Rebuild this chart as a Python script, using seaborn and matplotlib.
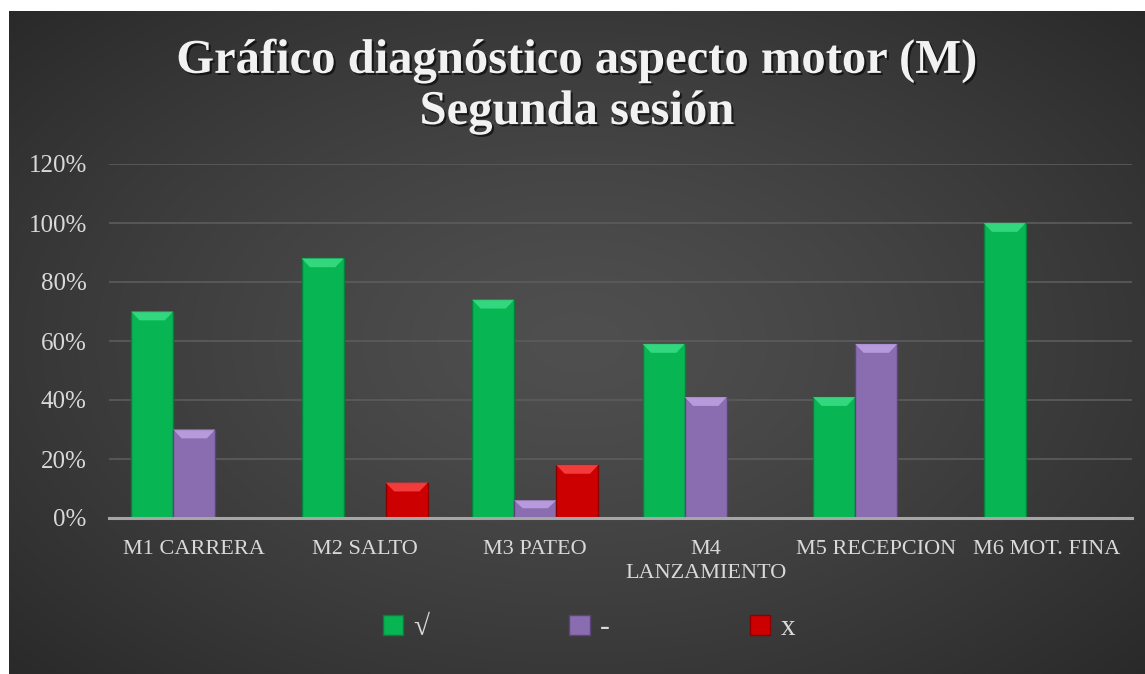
import numpy as np
import pandas as pd
import matplotlib
matplotlib.use("Agg")
import matplotlib.pyplot as plt
import matplotlib.patheffects as pe
from matplotlib.patches import Polygon
import seaborn as sns

categories = ["M1 CARRERA", "M2 SALTO", "M3 PATEO", "M4\nLANZAMIENTO", "M5 RECEPCION", "M6 MOT. FINA"]
series_names = ["√", "-", "x"]
vals_check = [70, 88, 74, 59, 41, 100]
vals_dash = [30, 0, 6, 41, 59, 0]
vals_x = [0, 12, 18, 0, 0, 0]
yticks = [0, 20, 40, 60, 80, 100, 120]
title = "Gráfico diagnóstico aspecto motor (M)\nSegunda sesión"

colors = ["#07b552", "#8a6cb0", "#cc0000"]
edge_colors = ["#04813a", "#5a4578", "#8a0000"]
top_colors = ["#3fe08a", "#c3a6e8", "#ff4a4a"]

df = pd.DataFrame({
    "cat": categories * 3,
    "serie": [series_names[0]] * 6 + [series_names[1]] * 6 + [series_names[2]] * 6,
    "val": vals_check + vals_dash + vals_x,
})

sns.set_theme(style="white")
plt.rcParams["font.family"] = ["Liberation Serif", "DejaVu Serif"]

W, H = 1145, 674
fig = plt.figure(figsize=(W / 100, H / 100), dpi=100, facecolor="white")

# background gradient panel
bg = fig.add_axes([9 / W, 0, 1 - 9 / W, 1 - 11 / H])
bg.set_axis_off()
yy, xx = np.mgrid[0:1:300j, 0:1:500j]
r = np.sqrt(((xx - 0.5) / 0.75) ** 2 + ((yy - 0.5) / 0.8) ** 2)
r = np.clip(r, 0, 1)
light, dark = 0x4f / 255, 0x25 / 255
g = light + (dark - light) * r ** 1.3
img = np.dstack([g, g, g])
bg.imshow(img, aspect="auto", extent=[0, 1, 0, 1], interpolation="bilinear")
bg.set_zorder(0)

ax = fig.add_axes([109 / W, 1 - 518 / H, (1132 - 109) / W, (518 - 164) / H])
ax.set_zorder(1)
ax.patch.set_alpha(0)

sns.barplot(data=df, x="cat", y="val", hue="serie", palette=colors, width=0.74,
            saturation=1, ax=ax, order=categories, hue_order=series_names, zorder=3)

ax.set_ylim(0, 120)
ax.set_yticks(yticks)
ax.set_yticklabels([f"{v}%" for v in yticks])
ax.yaxis.grid(True, color="#5c5c5c", linewidth=1.2, zorder=0)
ax.set_axisbelow(True)
for s in ["top", "right", "left"]:
    ax.spines[s].set_visible(False)
ax.spines["bottom"].set_color("#a6a6a6")
ax.spines["bottom"].set_linewidth(2.2)
ax.spines["bottom"].set_zorder(5)
ax.tick_params(axis="both", length=0, colors="#d9d9d9")
ax.tick_params(axis="y", pad=16, labelsize=18)
ax.tick_params(axis="x", pad=16, labelsize=16)
for t in ax.get_xticklabels():
    t.set_linespacing(1.35)
ax.set_xlabel("")
ax.set_ylabel("")

# bevel styling derived from each bar's geometry
for ci, cont in enumerate(ax.containers):
    for bar in cont:
        h = bar.get_height()
        bar.set_edgecolor(edge_colors[ci])
        bar.set_linewidth(1.0)
        if h <= 0:
            continue
        x0 = bar.get_x()
        w = bar.get_width()
        inset = w * 0.2
        bh = min(3.0, h * 0.45)
        ax.add_patch(Polygon([[x0, h], [x0 + w, h], [x0 + w - inset, h - bh], [x0 + inset, h - bh]],
                             closed=True, facecolor=top_colors[ci], edgecolor="none", zorder=4, alpha=0.8))

handles, labels = ax.get_legend_handles_labels()
for hd, ec in zip(handles, edge_colors):
    hd.set_edgecolor(ec)
leg = ax.legend(handles, labels, loc="center", bbox_to_anchor=(0.469, -0.311), ncol=3,
                frameon=False, fontsize=21, handlelength=0.7, handleheight=0.7,
                columnspacing=4.8, handletextpad=0.35)
for t in leg.get_texts():
    t.set_color("#d9d9d9")

fig.text(0.504, 0.872, title, ha="center", va="center", fontsize=35, fontweight="bold",
         color="#f2f2f2", linespacing=1.2,
         path_effects=[pe.withSimplePatchShadow(offset=(1.5, -1.5), shadow_rgbFace="black", alpha=0.6)])

fig.savefig("out.png", dpi=100, facecolor="white")
